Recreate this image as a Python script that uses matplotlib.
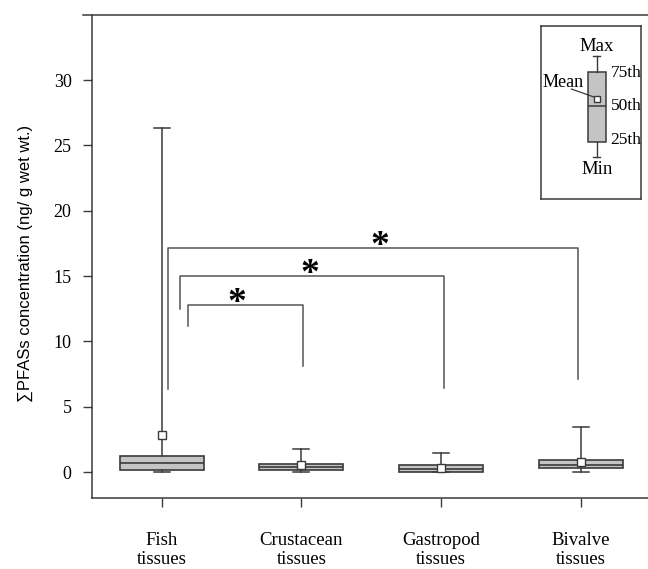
import numpy as np
import matplotlib
matplotlib.use("Agg")
import matplotlib.pyplot as plt

# box statistics (ng/g wet wt.)
categories = ["Fish\ntissues", "Crustacean\ntissues", "Gastropod\ntissues", "Bivalve\ntissues"]
q1 = [0.19, 0.16, 0.02, 0.30]
med = [0.72, 0.38, 0.25, 0.58]
q3 = [1.24, 0.60, 0.58, 0.91]
whislo = [0.0, 0.0, 0.0, 0.0]
whishi = [26.3, 1.75, 1.5, 3.45]
mean = [2.85, 0.52, 0.35, 0.75]

# significance brackets: fish vs crustacean / gastropod / bivalve
br_left = [1.19, 1.13, 1.046]
br_right = [2.01, 3.02, 3.98]
br_top = [12.78, 15.03, 17.13]
br_left_end = [11.2, 12.45, 6.35]
br_right_end = [8.1, 6.4, 7.1]
star_x = [1.54, 2.06, 2.56]
star_y = [13.4, 15.66, 17.83]

yticks = [0, 5, 10, 15, 20, 25, 30]

serif = "Liberation Serif"
line_c = "#3a3a3a"
box_c = "#c4c4c4"

fig = plt.figure(figsize=(6.48, 5.69), dpi=100)
ax = fig.add_axes([0.1415, 0.1243, 0.863, 0.8499])

stats = []
for i in range(len(categories)):
    stats.append(dict(med=med[i], q1=q1[i], q3=q3[i], whislo=whislo[i],
                      whishi=whishi[i], mean=mean[i], label=categories[i]))

pos = np.arange(1, len(categories) + 1)
ax.bxp(stats, positions=pos, widths=0.6, capwidths=0.115, showmeans=True,
       showfliers=False, patch_artist=True,
       boxprops=dict(facecolor=box_c, edgecolor=line_c, linewidth=1.2),
       medianprops=dict(color=line_c, linewidth=1.2),
       whiskerprops=dict(color=line_c, linewidth=1.1),
       capprops=dict(color=line_c, linewidth=1.1),
       meanprops=dict(marker='s', markerfacecolor='white', markeredgecolor=line_c,
                      markersize=6, markeredgewidth=1.0))

for i in range(len(br_left)):
    ax.plot([br_left[i], br_left[i], br_right[i], br_right[i]],
            [br_left_end[i], br_top[i], br_top[i], br_right_end[i]],
            color="#555555", lw=1.1)
    # the serif asterisk sits high in its box, so pull it down a little
    ax.annotate("*", (star_x[i], star_y[i]), xytext=(0, -5), textcoords='offset points',
                ha='center', va='center', fontsize=27, fontweight='bold', family=serif)

ax.set_xlim(0.5, 4.5)
ax.set_ylim(-2, 35)
ax.set_yticks(yticks)
ax.set_yticklabels([str(v) for v in yticks], family=serif, fontsize=13)
ax.set_xticks(pos)
ax.set_xticklabels(categories, family=serif, fontsize=13.5, linespacing=1.15)
ax.tick_params(axis='y', direction='out', length=6.5, width=1.0, color=line_c, pad=8)
ax.tick_params(axis='x', direction='out', length=6.5, width=1.0, color=line_c, pad=18)
ax.set_ylabel("\u2211PFASs concentration (ng/ g wet wt.)", family=["Liberation Sans", "DejaVu Sans"],
              fontsize=12)
ax.yaxis.set_label_coords(-0.105, 0.4866)

for s in ['top', 'right']:
    ax.spines[s].set_visible(False)
for s in ['left', 'bottom']:
    ax.spines[s].set_color(line_c)
    ax.spines[s].set_linewidth(1.1)
# top frame line runs past the left spine like the original
ax.plot([-0.015, 1], [1, 1], transform=ax.transAxes, clip_on=False, color=line_c, lw=1.1)

# inset key explaining the box symbols
key = fig.add_axes([540.5 / 648, 1 - 198.8 / 569, 100.8 / 648, 172.8 / 569])
for s in key.spines.values():
    s.set_color(line_c)
    s.set_linewidth(1.1)
key_stats = [dict(med=0.537, q1=0.3275, q3=0.735, whislo=0.2436, whishi=0.825, mean=0.579)]
key.bxp(key_stats, positions=[0.5575], widths=0.18, capwidths=0.07, showmeans=True,
        showfliers=False, patch_artist=True,
        boxprops=dict(facecolor=box_c, edgecolor=line_c, linewidth=1.1),
        medianprops=dict(color=line_c, linewidth=1.1),
        whiskerprops=dict(color=line_c, linewidth=1.0),
        capprops=dict(color=line_c, linewidth=1.0),
        meanprops=dict(marker='s', markerfacecolor='white', markeredgecolor=line_c,
                       markersize=5, markeredgewidth=1.0))
key.set_xlim(0, 1)
key.set_ylim(0, 1)
key.set_xticks([])
key.set_yticks([])
key.text(0.56, 0.884, "Max", ha='center', va='center', family=serif, fontsize=13.5)
key.text(0.56, 0.172, "Min", ha='center', va='center', family=serif, fontsize=13.5)
key.text(0.695, 0.730, "75th", ha='left', va='center', family=serif, fontsize=12.5)
key.text(0.695, 0.537, "50th", ha='left', va='center', family=serif, fontsize=12.5)
key.text(0.695, 0.340, "25th", ha='left', va='center', family=serif, fontsize=12.5)
key.text(0.225, 0.672, "Mean", ha='center', va='center', family=serif, fontsize=13)
key.plot([0.3075, 0.531], [0.635, 0.589], color=line_c, lw=0.9)

fig.savefig("out.png", dpi=100)
